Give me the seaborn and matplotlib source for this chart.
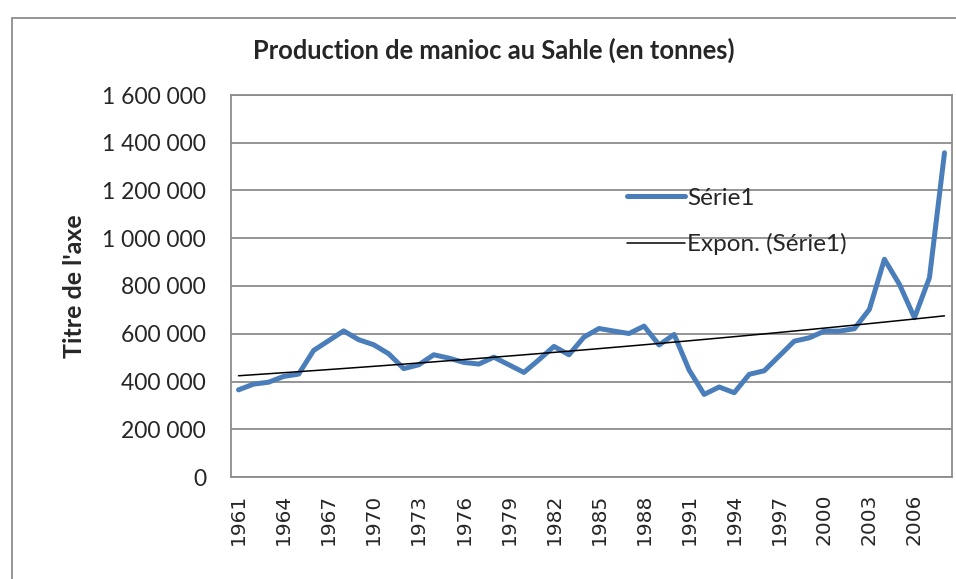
import numpy as np
import pandas as pd
import matplotlib
matplotlib.use("Agg")
import matplotlib.pyplot as plt
import seaborn as sns
from matplotlib.patches import Rectangle
from matplotlib.lines import Line2D

# Data
years = list(range(1961, 2009))
production = [365000, 389000, 397000, 421000, 431000, 530000, 571000, 612000,
              575000, 554000, 516000, 454000, 470000, 512000, 498000, 480000,
              473000, 502000, 470000, 438000, 491000, 547000, 512000, 586000,
              622000, 611000, 601000, 632000, 553000, 597000, 448000, 346000,
              377000, 353000, 430000, 445000, 507000, 569000, 583000, 611000,
              611000, 621000, 702000, 912000, 807000, 667000, 835000, 1358000]
y_ticks = [0, 200000, 400000, 600000, 800000, 1000000, 1200000, 1400000, 1600000]
title = "Production de manioc au Sahle (en tonnes)"
y_title = "Titre de l'axe"
series_name = "Série1"
trend_name = "Expon. (Série1)"

df = pd.DataFrame({"pos": np.arange(len(years)), "year": years, "value": production})

# exponential trend line like excel: y = a * exp(b*x)
b, log_a = np.polyfit(df["pos"] + 1, np.log(df["value"]), 1)
df["trend"] = np.exp(log_a + b * (df["pos"] + 1))

sns.set_theme(style="white")
plt.rcParams["font.family"] = ["Lato", "DejaVu Sans"]

fig = plt.figure(figsize=(9.56, 5.79), dpi=100)
ax = fig.add_axes([231 / 956, 1 - 477 / 579, (952 - 231) / 956, (477 - 95) / 579])

blue = "#4A7EBB"
grid_col = "#8c8c8c"

sns.lineplot(data=df, x="pos", y="value", ax=ax, color=blue, linewidth=3.6,
             solid_joinstyle="round", solid_capstyle="round")
sns.lineplot(data=df, x="pos", y="trend", ax=ax, color="black", linewidth=1.1)

ax.set_xlim(-0.5, len(years) - 0.5)
ax.set_ylim(y_ticks[0], y_ticks[-1])
ax.set_yticks(y_ticks)
ax.set_yticklabels([f"{v:,}".replace(",", " ") for v in y_ticks], fontsize=16.5)
ax.yaxis.grid(True, color=grid_col, linewidth=1.3)
ax.set_axisbelow(True)

tick_pos = list(range(0, len(years), 3))
ax.set_xticks(tick_pos)
ax.set_xticklabels([str(years[i]) for i in tick_pos], rotation=90)
for lab in ax.get_xticklabels():
    lab.set_fontfamily("DejaVu Sans")
    lab.set_fontsize(14.5)
ax.tick_params(axis="y", length=0, pad=18)
ax.tick_params(axis="x", length=0, pad=12)
ax.set_xlabel("")
ax.set_ylabel("")

for s in ax.spines.values():
    s.set_color(grid_col)
    s.set_linewidth(1.3)

fig.text(494 / 956, 1 - 50 / 579, title, ha="center", va="center",
         fontsize=18.4, fontweight="bold")
fig.text(75 / 956, 1 - 286 / 579, y_title, ha="center", va="center",
         rotation=90, fontsize=18, fontweight="bold")

handles = [Line2D([], [], color=blue, linewidth=3.6),
           Line2D([], [], color="black", linewidth=1.1)]
ax.legend(handles, [series_name, trend_name], frameon=False, fontsize=17.5,
          loc="upper left", bbox_to_anchor=(617 / 956, 1 - 178 / 579),
          bbox_transform=fig.transFigure, handlelength=2.4, handletextpad=0.1,
          labelspacing=1.0, borderaxespad=0)

# outer chart border (cropped on right and bottom)
fig.patches.append(Rectangle((12 / 956, -0.1), 1.2, 1 - 18 / 579 + 0.1,
                             transform=fig.transFigure, fill=False,
                             edgecolor=grid_col, linewidth=1.3))

fig.savefig("out.png", dpi=100)
